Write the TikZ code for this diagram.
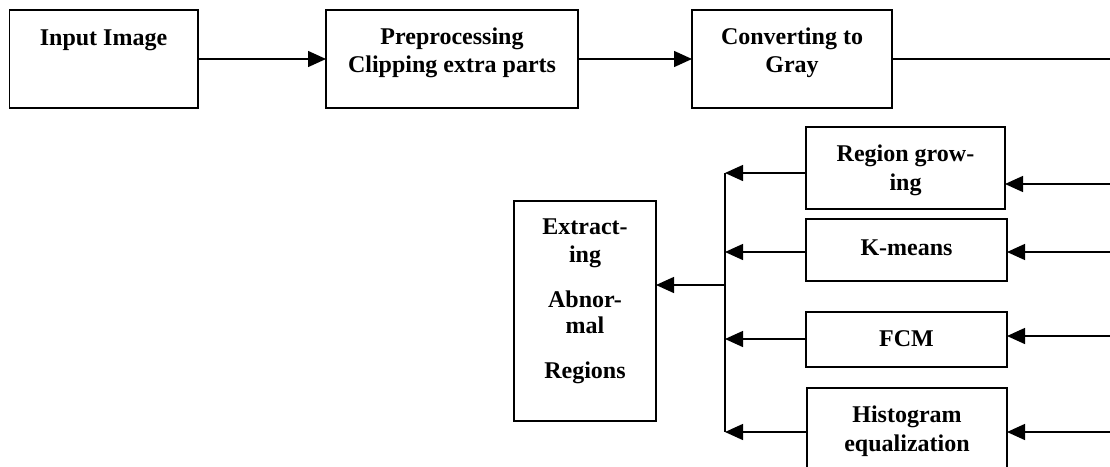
\documentclass[tikz,border=0pt]{standalone}
\usepackage{fontspec}
\setmainfont{Liberation Serif}
\usetikzlibrary{arrows.meta}
\begin{document}
\begin{tikzpicture}[x=1pt,y=-1pt,
  box/.style={draw=black,line width=1.6pt,inner sep=0pt,outer sep=0pt,fill=white},
  txt/.style={anchor=base,inner sep=0pt,font=\fontsize{24}{28}\selectfont\bfseries},
  conn/.style={line width=1.4pt,draw=black},
  arr/.style={conn,-{Triangle[length=18pt,width=16pt]}}]
\useasboundingbox (0,0) rectangle (1110,466);
\clip (0,0) rectangle (1110,466);
% top row boxes
\node[box,minimum width=188.4pt,minimum height=98pt] (in) at (103.5,59) {};
\node[box,minimum width=252pt,minimum height=98pt] (prep) at (452,59) {};
\node[box,minimum width=200pt,minimum height=98pt] (gray) at (792,59) {};
% lower boxes
\node[box,minimum width=199pt,minimum height=82pt] (region) at (905.5,168) {};
\node[box,minimum width=201pt,minimum height=62pt] (kmeans) at (906.5,250) {};
\node[box,minimum width=201pt,minimum height=55pt] (fcm) at (906.5,339.5) {};
\node[box,minimum width=200pt,minimum height=92pt] (hist) at (907,434) {};
\node[box,minimum width=142pt,minimum height=220pt] (extract) at (585,311) {};
% texts
\node[txt] (inT) at (103.5,45) {Input Image};
\node[txt] (prepT1) at (452,44) {Preprocessing};
\node[txt] (prepT2) at (452,72.5) {Clipping extra parts};
\node[txt] (grayT1) at (792,44) {Converting to};
\node[txt] (grayT2) at (792,72.5) {Gray};
\node[txt] (regionT1) at (905.5,161) {Region grow-};
\node[txt] (regionT2) at (905.5,190) {ing};
\node[txt] (kmeansT) at (906.5,255.5) {K-means};
\node[txt] (fcmT) at (906.5,346) {FCM};
\node[txt] (histT1) at (907,422.5) {Histogram};
\node[txt] (histT2) at (907,451.5) {equalization};
\node[txt] (exT1) at (585,234) {Extract-};
\node[txt] (exT2) at (585,262) {ing};
\node[txt] (exT3) at (585,307) {Abnor-};
\node[txt] (exT4) at (585,333) {mal};
\node[txt] (exT5) at (585,378) {Regions};
% top connectors
\draw[arr] (in) -- (prep);
\draw[arr] (prep) -- (gray);
\coordinate (r0) at (1113,59);
\draw[conn] (gray) -- (r0);
% right feeds
\coordinate (r1) at (1113,184);
\coordinate (r2) at (1113,252);
\coordinate (r3) at (1113,336);
\coordinate (r4) at (1113,432);
\draw[arr] (r1) -- (r1 -| region.east);
\draw[arr] (r2) -- (r2 -| kmeans.east);
\draw[arr] (r3) -- (r3 -| fcm.east);
\draw[arr] (r4) -- (r4 -| hist.east);
% bus
\coordinate (b1) at (725,173);
\coordinate (b2) at (725,252);
\coordinate (b3) at (725,339);
\coordinate (b4) at (725,432);
\coordinate (b0) at (725,285);
\draw[conn] (b1) -- (b4);
\draw[arr] (b1 -| region.west) -- (b1);
\draw[arr] (b2 -| kmeans.west) -- (b2);
\draw[arr] (b3 -| fcm.west) -- (b3);
\draw[arr] (b4 -| hist.west) -- (b4);
\draw[arr] (b0) -- (b0 -| extract.east);
\end{tikzpicture}
\end{document}
